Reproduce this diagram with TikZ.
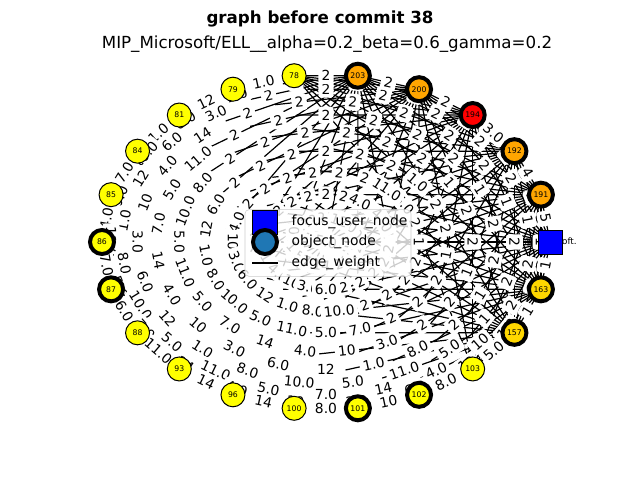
\documentclass[tikz,border=0pt]{standalone}
\usepackage{fontspec}
\setmainfont{DejaVu Sans}
\usetikzlibrary{calc}
\definecolor{mplorange}{RGB}{255,165,0}
\definecolor{mplgold}{RGB}{255,215,0}
\definecolor{mplyellow}{RGB}{255,255,0}
\definecolor{mplred}{RGB}{255,0,0}
\definecolor{mplblue}{RGB}{0,0,255}
\definecolor{tabblue}{RGB}{31,119,180}
\pgfdeclarelayer{edgelayer}
\pgfdeclarelayer{labellayer}
\pgfsetlayers{edgelayer,labellayer,main}
\tikzset{
  vtx/.style={circle,draw=black,minimum size=18pt,inner sep=0pt,font=\fontsize{5.8}{7}\selectfont},
  thinb/.style={line width=0.75pt},
  thickb/.style={line width=3pt},
  sqnode/.style={rectangle,draw=black,line width=0.75pt,fill=mplblue,minimum size=18pt,inner sep=0pt},
  edge/.style={draw=black,line width=0.9pt},
  elab/.style={fill=white,rounded corners=2pt,inner sep=2.4pt,font=\fontsize{10.4}{12}\selectfont,text=black},
  legtxt/.style={anchor=west,font=\fontsize{10.4}{12}\selectfont}
}
\begin{document}
\begin{tikzpicture}[x=0.75pt,y=0.75pt]
\useasboundingbox (0,0) rectangle (640,480);
% title
\node[font=\bfseries\fontsize{12.5}{15}\selectfont] (ttl) at (320,461) {graph before commit 38};
\node[font=\fontsize{12.5}{15}\selectfont] (sub) at (327,436) {MIP\_Microsoft/ELL\_\_alpha=0.2\_beta=0.6\_gamma=0.2};
% nodes
\node[sqnode] (v0) at (550,238) {};
\foreach \i/\lab/\col/\bw in {1/191/mplorange/thickb,2/192/mplorange/thickb,3/194/mplred/thickb,4/200/mplorange/thickb,5/203/mplorange/thickb,6/78/mplyellow/thinb,7/79/mplyellow/thinb,8/81/mplyellow/thinb,9/84/mplyellow/thinb,10/85/mplyellow/thinb,11/86/mplyellow/thickb,12/87/mplyellow/thickb,13/88/mplyellow/thinb,14/93/mplyellow/thinb,15/96/mplyellow/thinb,16/100/mplyellow/thinb,17/101/mplyellow/thickb,18/102/mplyellow/thickb,19/103/mplyellow/thinb,20/157/mplgold/thickb,21/163/mplgold/thickb}{
  \node[vtx,\bw,fill=\col] (v\i) at ({326+224*cos(\i*360/22)},{238+168*sin(\i*360/22)}) {\lab};
}
% square label behind edges
\begin{pgfonlayer}{edgelayer}
\node[anchor=east,inner sep=0pt,font=\fontsize{6.6}{8}\selectfont] (sqlab) at (577,238) {dev@microsoft.};
\end{pgfonlayer}
% edges (lines running into the label field are hidden there)
\begin{pgfonlayer}{edgelayer}
\foreach \i in {0,...,20}{
  \pgfmathtruncatemacro\js{\i+1}
  \foreach \j in {\js,...,21}{
    \pgfmathtruncatemacro\ok{(\i<6)||(\j>19)}
    \ifnum\ok=1\relax
      \ifnum\i<6\relax \edef\hub{\i}\edef\tgt{\j}\else \edef\hub{\j}\edef\tgt{\i}\fi
      \pgfmathtruncatemacro\prt{(\tgt>6)&&(\tgt<19)}
      \ifnum\prt=1\relax
        \draw[edge] (v\hub.center) -- ($(v\hub.center)!0.6!(v\tgt.center)$);
      \else
        \draw[edge] (v\hub.center) -- (v\tgt.center);
      \fi
    \fi
  }
}
\end{pgfonlayer}
% edge labels
\begin{pgfonlayer}{labellayer}
\foreach \i in {0,...,20}{
  \pgfmathtruncatemacro\js{\i+1}
  \foreach \j in {\js,...,21}{
    \pgfmathtruncatemacro\kk{mod(\i*7+\j*11,13)}
    \pgfmathtruncatemacro\spn{\j-\i}
    \ifnum\i<6\relax
      \pgfmathtruncatemacro\mm{mod(\i*3+\j*5,3)}
      \def\txt{2}
      \ifnum\j>16\relax \ifnum\mm=0\relax \def\txt{1}\fi\fi
      \ifnum\spn=1\relax
        \edef\txt{\ifcase\numexpr\i\relax 5\or 4\or 3.0\or 2\or 2\or 2\fi}
      \fi
    \else
      \edef\txt{\ifcase\numexpr\kk\relax 1.0\or 4.0\or 5.0\or 6.0\or 7.0\or 8.0\or 10\or 11.0\or 12\or 14\or 10.0\or 3.0\or 5.0\fi}
      \ifnum\spn=1\relax
        \edef\txt{\ifcase\numexpr\i-6\relax 1.0\or 12\or 1.0\or 7.0\or 4.0\or 7.0\or 6.0\or 11.0\or 14\or 14\or 8.0\or 10\or 8.0\or 5.0\or 1\fi}
      \fi
    \fi
    \path (v\i.center) -- node[elab,sloped] {\txt} (v\j.center);
  }
}
\end{pgfonlayer}
% legend
\node[draw=black!20,fill=white,fill opacity=0.8,rounded corners=3pt,minimum width=124.5pt,minimum height=50pt,inner sep=0pt] (leg) at (328,237) {};
\node[sqnode,minimum size=18.5pt] (legsq) at (265,257.5) {};
\node[vtx,thickb,fill=tabblue] (legci) at (265,238) {};
\coordinate (legl1) at (252,217);
\coordinate (legl2) at (278,217);
\draw[edge] (legl1) -- (legl2);
\node[legtxt] (t1) at (287,258) {focus\_user\_node};
\node[legtxt] (t2) at (287,238) {object\_node};
\node[legtxt] (t3) at (287,217) {edge\_weight};
\end{tikzpicture}
\end{document}
